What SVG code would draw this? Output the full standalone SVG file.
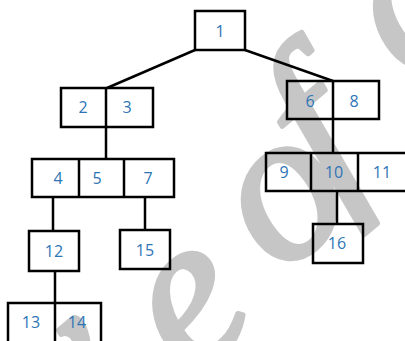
<svg xmlns="http://www.w3.org/2000/svg" width="405" height="341" viewBox="0 0 405 341">
<style>
.wm{font-family:"Liberation Serif",serif;font-style:italic;font-size:215px;fill:#c6c6c6;stroke:#c6c6c6;stroke-width:5;stroke-linejoin:round;text-anchor:middle}
.box{fill:none;stroke:#000;stroke-width:2.5}
.div{stroke:#000;stroke-width:2.5}
.lbl{font-family:"Open Sans","Liberation Sans",sans-serif;font-size:16px;fill:#2e75b6;text-anchor:middle}
.con{stroke:#000;stroke-width:2.5;fill:none}
</style>
<rect width="405" height="341" fill="#fff"/>
<g id="watermark">
<text class="wm" transform="translate(72,385) rotate(-40)" y="48">v</text>
<text class="wm" transform="translate(195,312) rotate(-40)" y="48">e</text>
<text class="wm" transform="translate(290,205) rotate(-40)" y="48">o</text>
<text class="wm" transform="translate(325,145) rotate(-40)" y="48">f</text>
<text class="wm" transform="translate(416,15) rotate(-40)" y="48">c</text>
</g>
<g id="connectors">
<line class="con" x1="195" y1="50" x2="107" y2="88"/>
<line class="con" x1="245" y1="50" x2="333" y2="81"/>
<line class="con" x1="106" y1="127" x2="106" y2="159"/>
<line class="con" x1="333" y1="119" x2="333" y2="153"/>
<line class="con" x1="53" y1="197" x2="53" y2="231"/>
<line class="con" x1="145" y1="197" x2="145" y2="230"/>
<line class="con" x1="337" y1="191" x2="337" y2="224"/>
<line class="con" x1="55" y1="271" x2="55" y2="303"/>
</g>
<g id="n1">
<rect class="box" x="195" y="11" width="50" height="39"/>
<text class="lbl" x="220" y="37">1</text>
</g>
<g id="n2_3">
<rect class="box" x="61" y="88" width="92" height="39"/>
<line class="div" x1="106" y1="88" x2="106" y2="127"/>
<text class="lbl" x="83" y="113">2</text>
<text class="lbl" x="127" y="113">3</text>
</g>
<g id="n6_8">
<rect class="box" x="287" y="81" width="92" height="38"/>
<line class="div" x1="333" y1="81" x2="333" y2="119"/>
<text class="lbl" x="310" y="107">6</text>
<text class="lbl" x="354" y="107">8</text>
</g>
<g id="n4_5_7">
<rect class="box" x="32" y="159" width="142" height="38"/>
<line class="div" x1="79" y1="159" x2="79" y2="197"/>
<line class="div" x1="124" y1="159" x2="124" y2="197"/>
<text class="lbl" x="58" y="184">4</text>
<text class="lbl" x="97" y="184">5</text>
<text class="lbl" x="148" y="184">7</text>
</g>
<g id="n9_10_11">
<rect class="box" x="266" y="153" width="145" height="38"/>
<line class="div" x1="311" y1="153" x2="311" y2="191"/>
<line class="div" x1="358" y1="153" x2="358" y2="191"/>
<text class="lbl" x="284" y="178">9</text>
<text class="lbl" x="334" y="178">10</text>
<text class="lbl" x="382" y="178">11</text>
</g>
<g id="n12">
<rect class="box" x="29" y="231" width="50" height="40"/>
<text class="lbl" x="54" y="257">12</text>
</g>
<g id="n15">
<rect class="box" x="120" y="230" width="50" height="39"/>
<text class="lbl" x="145" y="256">15</text>
</g>
<g id="n16">
<rect class="box" x="313" y="224" width="50" height="39"/>
<text class="lbl" x="337" y="249">16</text>
</g>
<g id="n13_14">
<rect class="box" x="8" y="303" width="93" height="45"/>
<line class="div" x1="55" y1="303" x2="55" y2="348"/>
<text class="lbl" x="31" y="328">13</text>
<text class="lbl" x="77" y="328">14</text>
</g>
</svg>
